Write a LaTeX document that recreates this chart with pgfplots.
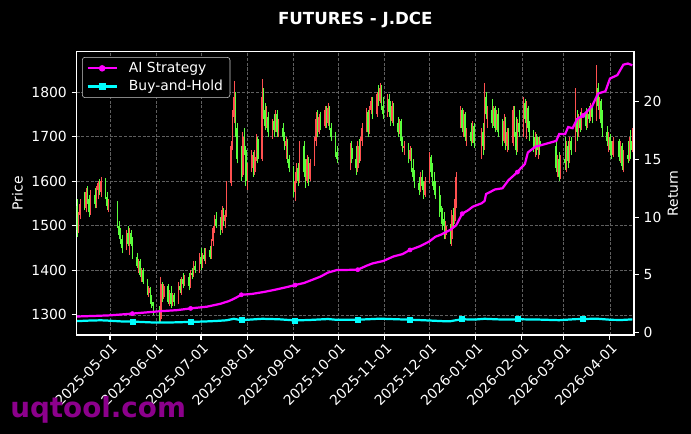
\documentclass[border=0pt]{standalone}
\usepackage{pgfplots}
\usepackage{pgfplotstable}
\pgfplotsset{compat=1.18}
\usepackage{fontspec}
\setmainfont{DejaVu Sans}

\definecolor{candleup}{RGB}{255,80,80}
\definecolor{candledn}{RGB}{90,255,60}
\definecolor{aimag}{RGB}{255,0,255}
\definecolor{bhcyan}{RGB}{0,255,255}
\definecolor{wm}{RGB}{140,0,140}
\definecolor{gridc}{RGB}{95,95,95}

% day 0 = 2025-05-01 ; rising candles (close > open)
\pgfplotstableread{
d o h l c
-21 1490 1530 1485 1525
-20 1525 1560 1515 1550
-16 1540 1585 1530 1575
-13 1530 1580 1525 1570
-9 1550 1590 1540 1580
-8 1580 1600 1560 1595
-6 1575 1610 1565 1600
-1 1545 1560 1530 1550
11 1450 1490 1445 1485
13 1445 1495 1435 1485
19 1410 1425 1395 1420
21 1390 1405 1375 1400
26 1350 1365 1340 1360
34 1290 1385 1285 1370
36 1340 1370 1335 1365
40 1330 1355 1320 1350
42 1325 1350 1320 1345
46 1330 1375 1325 1365
48 1355 1385 1345 1380
50 1370 1390 1365 1385
54 1365 1400 1360 1395
56 1390 1420 1385 1410
60 1400 1440 1395 1430
62 1415 1440 1405 1435
64 1425 1450 1415 1445
68 1430 1470 1425 1465
69 1465 1500 1455 1495
70 1495 1525 1485 1515
75 1490 1545 1485 1535
77 1510 1535 1495 1525
78 1525 1600 1520 1595
81 1595 1690 1590 1680
82 1680 1760 1670 1745
83 1745 1825 1730 1790
89 1615 1710 1610 1700
92 1600 1640 1580 1630
95 1630 1670 1620 1660
97 1620 1670 1615 1655
98 1655 1705 1645 1695
102 1650 1830 1645 1790
105 1725 1770 1720 1745
109 1710 1740 1695 1735
111 1715 1760 1710 1750
113 1710 1740 1700 1730
118 1680 1700 1650 1690
124 1575 1620 1555 1600
125 1600 1640 1595 1630
127 1600 1690 1595 1680
132 1600 1660 1595 1650
134 1605 1650 1600 1640
137 1640 1700 1635 1690
138 1690 1755 1680 1740
140 1710 1750 1705 1745
144 1725 1770 1720 1760
146 1730 1775 1725 1765
161 1650 1685 1625 1675
166 1630 1690 1620 1680
168 1650 1700 1645 1690
169 1690 1730 1680 1720
172 1720 1765 1710 1755
174 1710 1770 1705 1760
175 1760 1790 1750 1780
179 1750 1800 1745 1795
181 1780 1820 1775 1810
186 1750 1795 1745 1785
189 1735 1780 1730 1770
194 1710 1740 1705 1735
197 1675 1690 1660 1680
201 1650 1680 1645 1670
208 1580 1620 1575 1610
211 1570 1610 1565 1600
214 1600 1665 1595 1655
225 1480 1510 1470 1500
229 1470 1535 1455 1525
231 1510 1560 1505 1550
232 1550 1620 1540 1610
235 1750 1770 1720 1760
237 1720 1760 1700 1750
239 1700 1720 1680 1710
243 1690 1735 1685 1725
249 1685 1720 1650 1710
251 1680 1820 1670 1790
253 1750 1770 1720 1760
257 1730 1770 1725 1765
259 1720 1760 1715 1750
264 1690 1750 1685 1735
266 1680 1720 1665 1710
270 1685 1770 1680 1760
273 1670 1740 1665 1730
277 1710 1790 1700 1775
279 1740 1780 1695 1765
285 1675 1710 1655 1700
287 1670 1700 1650 1690
300 1630 1660 1610 1650
302 1610 1660 1605 1650
306 1640 1690 1620 1680
308 1645 1700 1640 1690
312 1670 1810 1665 1740
314 1710 1750 1700 1740
316 1720 1765 1715 1755
320 1725 1760 1720 1750
322 1740 1775 1735 1765
326 1745 1860 1735 1810
328 1770 1790 1740 1780
334 1690 1710 1665 1700
337 1660 1700 1655 1690
342 1655 1690 1640 1680
344 1635 1670 1620 1660
348 1650 1700 1645 1690
350 1670 1720 1665 1710
}\cup

% falling candles (close < open)
\pgfplotstableread{
d o h l c
-22 1545 1560 1475 1490
-17 1550 1575 1535 1540
-15 1575 1590 1550 1560
-14 1560 1570 1520 1530
-10 1570 1585 1540 1550
-7 1595 1605 1570 1575
-3 1600 1608 1560 1565
-2 1565 1575 1535 1545
5 1550 1555 1495 1500
6 1500 1510 1470 1480
7 1480 1495 1460 1470
8 1470 1480 1440 1450
12 1485 1500 1455 1460
14 1485 1490 1455 1460
15 1460 1475 1425 1430
18 1430 1440 1405 1410
20 1420 1425 1385 1390
22 1400 1405 1370 1375
25 1375 1380 1345 1350
27 1360 1362 1325 1330
28 1330 1345 1315 1320
29 1320 1330 1300 1310
33 1310 1320 1282 1300
35 1370 1375 1330 1340
39 1365 1370 1325 1330
41 1350 1365 1315 1325
43 1345 1350 1320 1330
47 1365 1380 1350 1355
49 1380 1395 1360 1370
53 1385 1395 1355 1365
55 1395 1405 1380 1390
57 1410 1420 1395 1400
61 1430 1450 1400 1415
63 1435 1450 1420 1425
67 1445 1455 1425 1430
71 1515 1530 1495 1500
74 1500 1520 1480 1490
76 1535 1540 1500 1510
84 1790 1800 1700 1720
85 1720 1730 1640 1650
88 1650 1680 1600 1615
90 1700 1720 1660 1670
91 1670 1680 1590 1600
96 1660 1665 1610 1620
99 1695 1700 1640 1650
103 1790 1810 1740 1760
104 1760 1775 1715 1725
106 1745 1755 1700 1710
110 1735 1750 1700 1715
112 1750 1760 1700 1710
116 1720 1730 1690 1700
117 1700 1710 1670 1680
119 1690 1695 1640 1650
120 1650 1660 1620 1630
123 1630 1635 1565 1575
126 1630 1640 1590 1600
130 1680 1690 1610 1620
131 1620 1650 1585 1600
133 1650 1655 1590 1605
139 1740 1760 1700 1710
141 1745 1755 1715 1725
145 1760 1770 1720 1730
147 1765 1770 1715 1720
148 1720 1730 1690 1700
151 1700 1710 1655 1665
152 1665 1680 1640 1650
162 1675 1690 1640 1650
165 1650 1680 1615 1630
167 1680 1695 1640 1650
173 1755 1760 1700 1710
176 1780 1790 1740 1750
180 1795 1815 1770 1780
182 1810 1815 1760 1770
183 1770 1790 1740 1750
187 1785 1795 1745 1755
188 1755 1780 1725 1735
190 1770 1775 1725 1730
193 1730 1745 1700 1710
195 1735 1740 1680 1690
196 1690 1700 1665 1675
200 1680 1685 1640 1650
202 1670 1675 1620 1630
203 1630 1650 1600 1610
204 1610 1625 1585 1595
207 1595 1610 1570 1580
209 1610 1625 1580 1590
210 1590 1600 1560 1570
215 1655 1660 1610 1620
216 1620 1640 1590 1600
217 1600 1620 1570 1580
218 1580 1600 1560 1570
221 1570 1590 1520 1530
222 1530 1545 1505 1515
223 1515 1540 1490 1500
224 1500 1530 1470 1480
228 1500 1505 1460 1470
230 1525 1540 1500 1510
236 1760 1765 1710 1720
238 1750 1755 1690 1700
242 1710 1730 1680 1690
244 1725 1730 1675 1685
250 1710 1730 1660 1680
252 1790 1800 1740 1750
256 1760 1785 1720 1730
258 1765 1770 1710 1720
260 1750 1765 1700 1710
263 1710 1740 1680 1690
265 1735 1745 1670 1680
267 1710 1720 1670 1685
271 1760 1770 1700 1710
272 1710 1745 1660 1670
274 1730 1760 1700 1710
278 1775 1785 1730 1740
280 1765 1770 1710 1720
281 1720 1735 1690 1700
284 1700 1715 1665 1675
286 1700 1705 1660 1670
288 1690 1700 1660 1680
299 1680 1690 1620 1630
301 1650 1665 1600 1610
305 1650 1700 1625 1640
307 1680 1690 1630 1645
309 1690 1700 1660 1670
313 1740 1760 1690 1710
315 1740 1755 1710 1720
319 1755 1765 1715 1725
321 1750 1770 1730 1740
323 1765 1770 1730 1745
327 1810 1820 1760 1770
329 1780 1785 1720 1730
330 1730 1760 1700 1710
333 1710 1725 1680 1690
335 1700 1705 1660 1670
336 1670 1690 1650 1660
341 1690 1695 1645 1655
343 1680 1685 1625 1635
347 1660 1690 1640 1650
349 1690 1715 1650 1670
}\cdn

\pgfplotstableread{
d r
-22 1.40
-10 1.45
0 1.50
15 1.65
33 1.85
45 1.95
54 2.10
65 2.25
74 2.50
80 2.75
84 3.00
88 3.28
95 3.35
103 3.52
110 3.70
117 3.90
124 4.12
130 4.30
136 4.60
141 4.85
146 5.20
152 5.42
162 5.44
166 5.45
172 5.80
176 6.00
183 6.20
190 6.60
196 6.80
201 7.16
208 7.50
214 7.90
218 8.30
222 8.50
228 8.90
232 9.30
236 10.30
240 10.60
243 10.90
249 11.20
251 11.40
252 12.00
258 12.40
263 12.50
267 13.20
273 13.90
275 14.20
278 14.60
280 15.60
285 16.10
288 16.20
299 16.60
301 17.20
305 17.20
307 17.80
310 17.70
313 18.50
317 18.80
323 19.60
327 20.70
332 20.90
335 22.00
340 22.30
344 23.20
347 23.30
350 23.15
}\aistrat

\pgfplotstableread{
d r
15 1.65
54 2.10
88 3.28
124 4.12
166 5.45
201 7.16
236 10.30
273 13.90
317 18.80
}\aimarks

\pgfplotstableread{
d r
-22 1.00
-13 1.05
-6 1.07
-1 1.04
8 0.97
15 0.96
22 0.92
29 0.88
33 0.87
43 0.89
54 0.93
64 0.97
71 1.01
78 1.07
83 1.20
88 1.08
102 1.20
113 1.16
124 1.06
134 1.10
146 1.18
152 1.11
166 1.12
181 1.21
192 1.16
201 1.12
211 1.07
224 0.99
228 0.99
232 1.08
236 1.16
244 1.13
251 1.20
260 1.15
268 1.13
273 1.16
288 1.13
301 1.08
312 1.17
317 1.18
326 1.21
336 1.11
343 1.10
350 1.15
}\bnh

\pgfplotstableread{
d r
15 0.96
54 0.93
88 1.08
124 1.06
166 1.12
201 1.12
236 1.16
273 1.16
317 1.18
}\bnhmarks

\begin{document}
\begin{tikzpicture}
\fill[black] (0,0) rectangle (497.52pt,312.48pt);

\begin{axis}[
  at={(55.15pt,71.3pt)}, anchor=south west,
  scale only axis, width=401.3pt, height=204pt,
  xmin=-22.4, xmax=351.1, ymin=1255, ymax=1891,
  axis line style={white, line width=0.8pt},
  tick style={white, line width=0.8pt},
  major tick length=3.5pt, tick align=outside, tick pos=left,
  xtick={0,31,61,92,123,153,184,214,245,276,304,335},
  xticklabels={2025-05-01,2025-06-01,2025-07-01,2025-08-01,2025-09-01,2025-10-01,2025-11-01,2025-12-01,2026-01-01,2026-02-01,2026-03-01,2026-04-01},
  xticklabel style={font=\fontsize{10}{12}\selectfont, text=white, xshift=0.5pt, rotate=45, anchor=north east, inner sep=1pt},
  ytick={1300,1400,1500,1600,1700,1800},
  yticklabel style={font=\fontsize{10}{12}\selectfont, text=white},
  /pgf/number format/assume math mode=true,
  /pgf/number format/1000 sep={},
  grid=major, major grid style={gridc, dash pattern=on 2.2pt off 1.2pt, line width=0.5pt},
  ylabel={Price},
  ylabel style={at={(axis description cs:-0.106,0.5)}, anchor=center, font=\fontsize{10}{12}\selectfont, text=white},
  title={FUTURES - J.DCE},
  title style={at={(axis description cs:0.5,1)}, anchor=base, yshift=13.4pt, font=\bfseries\fontsize{12}{14}\selectfont, text=white},
]
% wicks
\addplot[candledn, line width=0.5pt, mark=none, forget plot,
  quiver={u=0, v={\thisrow{h}-\thisrow{l}}, every arrow/.append style={-}}]
  table[x=d, y=l] {\cdn};
\addplot[candleup, line width=0.5pt, mark=none, forget plot,
  quiver={u=0, v={\thisrow{h}-\thisrow{l}}, every arrow/.append style={-}}]
  table[x=d, y=l] {\cup};
% bodies
\addplot[candledn, line width=1.1pt, mark=none, forget plot,
  quiver={u=0, v={\thisrow{o}-\thisrow{c}}, every arrow/.append style={-}}]
  table[x=d, y=c] {\cdn};
\addplot[candleup, line width=1.1pt, mark=none, forget plot,
  quiver={u=0, v={\thisrow{c}-\thisrow{o}}, every arrow/.append style={-}}]
  table[x=d, y=o] {\cup};
\end{axis}

\begin{axis}[
  at={(55.15pt,71.3pt)}, anchor=south west,
  scale only axis, width=401.3pt, height=204pt,
  xmin=-22.4, xmax=351.1, ymin=-0.2, ymax=24.33,
  axis x line=none, axis y line*=right,
  y axis line style={white, line width=0.8pt, -},
  every outer y axis line/.append style={-},
  tick style={white, line width=0.8pt},
  major tick length=3.5pt, tick align=outside,
  ytick={0,5,10,15,20},
  yticklabel style={font=\fontsize{10}{12}\selectfont, text=white},
  /pgf/number format/assume math mode=true,
  ylabel={Return},
  ylabel style={at={(axis description cs:1.070,0.5)}, anchor=center, font=\fontsize{10}{12}\selectfont, text=white},
  legend style={at={(axis description cs:0.0097,0.981)}, anchor=north west,
    fill=black, draw=white!80!black, rounded corners=2pt, text=white,
    font=\fontsize{10}{12}\selectfont, inner xsep=3pt, inner ysep=1.5pt, row sep=0pt,
    /tikz/every odd column/.append style={column sep=6pt}},
  legend cell align=left,
  legend image code/.code={\draw[#1] (0pt,0pt) -- (21pt,0pt); \draw[#1, only marks] plot coordinates {(10.5pt,0pt)};},
]
\addplot[bhcyan, line width=1.6pt, forget plot] table[x=d, y=r] {\bnh};
\addplot[bhcyan, only marks, mark=square*, mark size=1.8pt, forget plot] table[x=d, y=r] {\bnhmarks};
\addplot[aimag, line width=1.6pt, forget plot] table[x=d, y=r] {\aistrat};
\addplot[aimag, only marks, mark=*, mark size=1.5pt, forget plot] table[x=d, y=r] {\aimarks};
\addlegendimage{aimag, line width=1.6pt, mark=*, mark size=1.5pt}
\addlegendentry{AI Strategy}
\addlegendimage{bhcyan, line width=1.6pt, mark=square*, mark size=1.8pt}
\addlegendentry{Buy-and-Hold}
\end{axis}

\node[anchor=base west, inner sep=0pt, text=wm, font=\bfseries\fontsize{20}{24}\selectfont] at (7.2pt,12.2pt) {uqtool.com};
\pgfresetboundingbox
\path[use as bounding box] (0,0) rectangle (497.52pt,312.48pt);
\end{tikzpicture}
\end{document}
